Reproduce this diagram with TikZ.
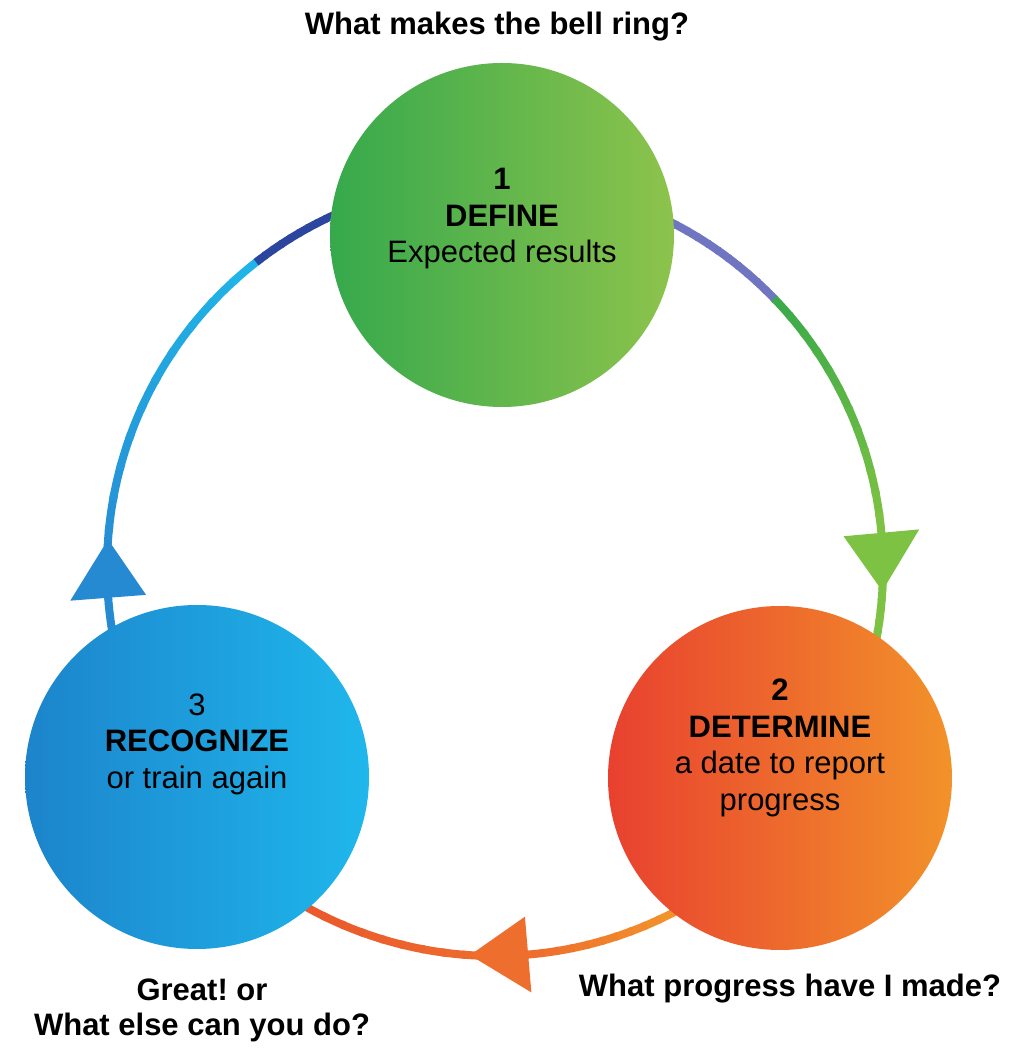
\documentclass[tikz,border=0pt]{standalone}
\usepackage{fontspec}
\setmainfont{Liberation Sans}
\usepackage{xcolor}
\frenchspacing

\definecolor{grnL}{HTML}{36A94C}
\definecolor{grnR}{HTML}{8DC34C}
\definecolor{orgL}{HTML}{E8412F}
\definecolor{orgR}{HTML}{F2922A}
\definecolor{bluL}{HTML}{1C84CB}
\definecolor{bluR}{HTML}{1FB7EC}
\definecolor{rpurple}{HTML}{7075C1}
\definecolor{rgreen}{HTML}{3AAA4A}
\definecolor{rlime}{HTML}{7DC242}
\definecolor{rorangeA}{HTML}{F39A2B}
\definecolor{rorangeB}{HTML}{EE6E2D}
\definecolor{rred}{HTML}{E9582C}
\definecolor{rblue}{HTML}{268AD2}
\definecolor{rcyan}{HTML}{21B4E8}
\definecolor{rnavy}{HTML}{2C46A0}

\tikzset{
  ring/.style={line width=8pt},
  disc/.style={circle, minimum size=344pt, inner sep=0pt},
  steptext/.style={align=center, text=black, font=\fontsize{31}{36.5}\selectfont},
  question/.style={align=center, text=black, font=\fontsize{31}{35}\selectfont\bfseries}
}

% piece of the ring, colour running from #3 to #4
\newcommand{\ringpart}[4]{%
  \foreach \k in {0,...,11}{%
    \pgfmathsetmacro\sa{#1+(#2-#1)*\k/12}%
    \pgfmathsetmacro\ea{#1+(#2-#1)*(\k+1.2)/12}%
    \pgfmathtruncatemacro\mix{100-100*\k/11}%
    \draw[ring, #3!\mix!#4] ([shift={(\sa:388pt)}]o) arc[start angle=\sa, end angle=\ea, radius=388pt];
  }}
% triangle tip on the ring, base at angle #1, point at angle #2
\newcommand{\ringtip}[3]{%
  \fill[#3] ([shift={(#1:350pt)}]o) -- ([shift={(#1:426pt)}]o) -- ([shift={(#2:388pt)}]o) -- cycle;}

\begin{document}
\begin{tikzpicture}[x=1pt, y=1pt]
  \useasboundingbox (0,0) rectangle (1009,1050);

  % Fixed coordinates
  \coordinate (o) at (495,482);

  % Ring from 1 to 2
  \ringpart{66}{44}{rpurple}{rpurple}
  \ringpart{44}{5}{rgreen}{rlime}
  \ringpart{5}{-14}{rlime}{rlime}
  \ringtip{5.2}{-3.4}{rlime}

  % Ring from 2 to 3
  \ringpart{-58}{-85}{rorangeA}{rorangeB}
  \ringpart{-85}{-122}{rorangeB}{rred}
  \ringtip{-85.1}{-93.7}{rorangeB}

  % Ring from 3 to 1
  \ringpart{192}{184}{rblue}{rblue}
  \ringpart{184}{128}{rblue}{rcyan}
  \ringpart{128}{110}{rnavy}{rnavy}
  \ringtip{184.4}{175.8}{rblue}

  % Step circles
  \node (c1) at (502,815) [disc, left color=grnL, right color=grnR] {};
  \node (c2) at (780,272) [disc, left color=orgL, right color=orgR] {};
  \node (c3) at (197,273) [disc, left color=bluL, right color=bluR] {};

  \node (t1) at ([yshift=16pt]c1.center) [steptext] {\textbf{1}\\\textbf{DEFINE}\\Expected results};
  \node (t2) at ([yshift=30pt]c2.center) [steptext] {\textbf{2}\\\textbf{DETERMINE}\\a date to report\\progress};
  \node (t3) at ([yshift=33pt]c3.center) [steptext] {3\\\textbf{RECOGNIZE}\\or train again};

  % Questions
  \node (q1) at (497,1015) [question, anchor=base] {What makes the bell ring?};
  \node (q2) at (790,53) [question, anchor=base] {What progress have I made?};
  \node (q3) at (202,4.5) [question, anchor=south] {Great! or\\What else can you do?};
\end{tikzpicture}
\end{document}
